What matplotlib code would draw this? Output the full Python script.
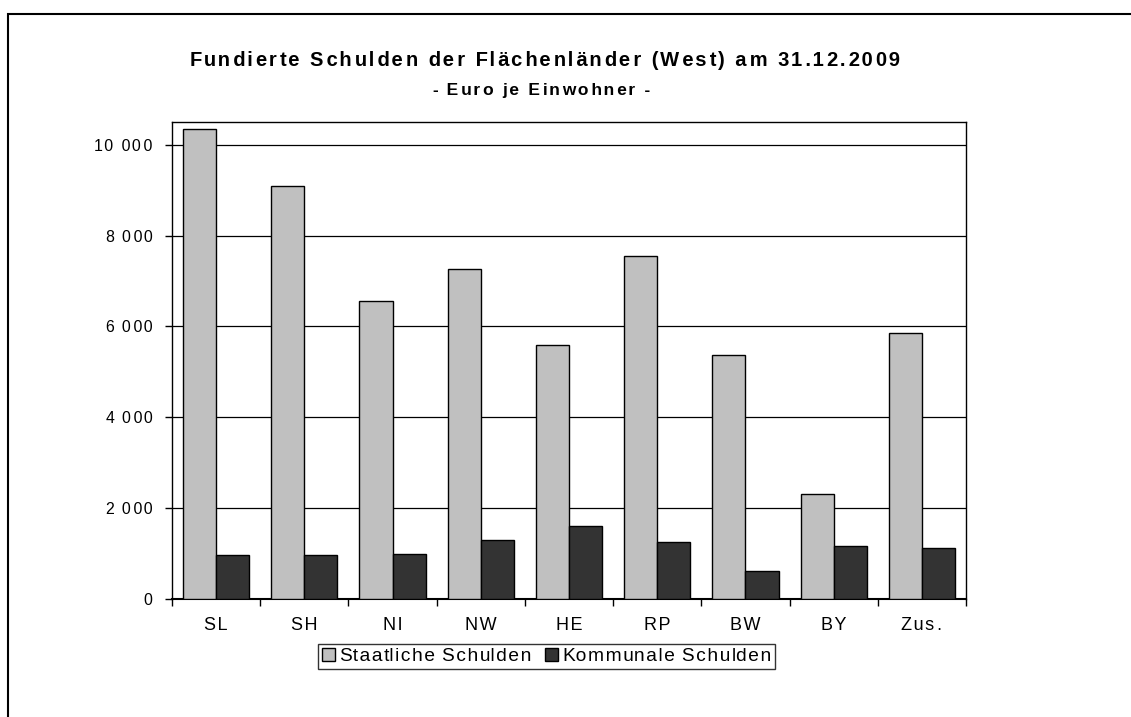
import matplotlib
matplotlib.use("Agg")
import matplotlib.pyplot as plt
from matplotlib.ticker import FuncFormatter, FixedLocator
from matplotlib.patches import Rectangle
import numpy as np

plt.rcParams['font.family'] = ['Liberation Sans', 'DejaVu Sans']

# Daten (Euro je Einwohner)
laender = ['SL', 'SH', 'NI', 'NW', 'HE', 'RP', 'BW', 'BY', 'Zus.']
staatlich = [10340, 9085, 6570, 7255, 5600, 7540, 5365, 2310, 5860]
kommunal = [975, 975, 980, 1305, 1610, 1265, 615, 1165, 1120]

HAIR = '\u200a'


def sperren(text, em=0.15):
    # Excel-artige Sperrschrift mit Haarspatien nachbilden
    out, acc = text[0], 0.0
    for ch in text[1:]:
        acc += em / 0.1
        n = int(acc)
        acc -= n
        out += HAIR * n + ch
    return out


fig = plt.figure(figsize=(11.31, 7.17), dpi=100)
ax = fig.add_axes([0.1521, 0.1646, 0.7020, 0.6652])

x = np.arange(len(laender)) + 0.5
w = 0.375
ax.bar(x - w / 2, staatlich, width=w, color='#C0C0C0', edgecolor='black',
       linewidth=1, label=sperren('Staatliche Schulden', 0.08), zorder=3)
ax.bar(x + w / 2, kommunal, width=w, color='#333333', edgecolor='black',
       linewidth=1, label=sperren('Kommunale Schulden', 0.08), zorder=3)

ax.set_xlim(0, len(laender))
ax.set_ylim(0, 10500)
ax.set_yticks(range(0, 10001, 2000))
ax.yaxis.set_major_formatter(
    FuncFormatter(lambda v, p: sperren(f'{int(v):,}'.replace(',', ' '))))
ax.grid(axis='y', color='black', linewidth=0.9, zorder=0)

# Kategorienbeschriftung mittig, Teilstriche an den Grenzen
ax.set_xticks(x)
ax.set_xticklabels([sperren(l) for l in laender])
ax.tick_params(axis='x', which='major', length=0, pad=13, labelsize=13)
ax.xaxis.set_minor_locator(FixedLocator(np.arange(len(laender) + 1)))
ax.tick_params(axis='x', which='minor', length=5, width=1, direction='out')
ax.tick_params(axis='y', length=5, width=1, direction='out', pad=9, labelsize=11.4)

for s in ax.spines.values():
    s.set_linewidth(1)
    s.set_color('black')
ax.spines['bottom'].set_linewidth(1.5)

fig.text(0.4815, 0.908, sperren('Fundierte Schulden der Flächenländer (West) am 31.12.2009'),
         ha='center', va='baseline', fontsize=14.5, fontweight='bold')
fig.text(0.479, 0.8675, sperren('- Euro je Einwohner -'),
         ha='center', va='baseline', fontsize=12.5, fontweight='bold')

leg = ax.legend(loc='center', bbox_to_anchor=(0.472, -0.121), ncol=2, frameon=True,
                fancybox=False, edgecolor='black', fontsize=13.8, handlelength=0.7,
                handleheight=0.7, handletextpad=0.25, columnspacing=0.7,
                borderpad=0.2, borderaxespad=0)
leg.get_frame().set_linewidth(1)

# Aeusserer Rahmen
fig.patches.append(Rectangle((8 / 1131, -0.1), 1.2, (717 - 14) / 717 + 0.1,
                             transform=fig.transFigure, fill=False,
                             edgecolor='black', linewidth=1.5))

fig.savefig('out.png', dpi=100)
